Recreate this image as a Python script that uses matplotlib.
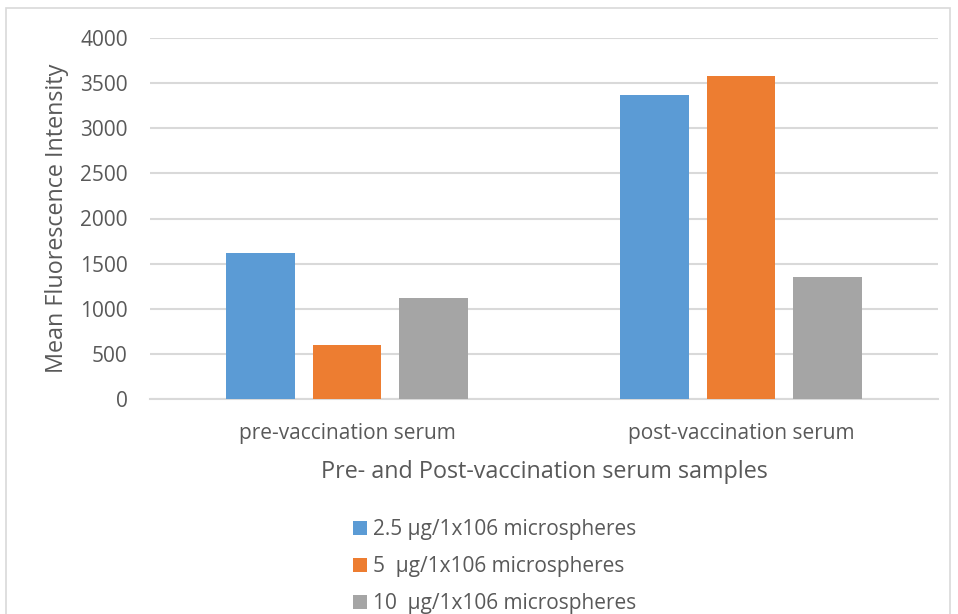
import numpy as np
import matplotlib.pyplot as plt
from matplotlib.patches import Rectangle

# Data
categories = ["pre-vaccination serum", "post-vaccination serum"]
series_names = ["2.5 μg/1x106 microspheres",
                "5  μg/1x106 microspheres",
                "10  μg/1x106 microspheres"]
conc_2_5 = [1614, 3368]
conc_5 = [595, 3579]
conc_10 = [1119, 1352]
yticks = [0, 500, 1000, 1500, 2000, 2500, 3000, 3500, 4000]

colors = ["#5b9bd5", "#ed7d31", "#a5a5a5"]
text_color = "#595959"
grid_color = "#d9d9d9"

plt.rcParams['font.family'] = ['Open Sans', 'DejaVu Sans']

fig = plt.figure(figsize=(9.58, 6.14), dpi=100)
ax = fig.add_axes([150 / 958, 1 - 399 / 614, (938 - 150) / 958, (399 - 38) / 614])

x = np.arange(len(categories))
width = 0.175
step = 0.22
for i, (vals, c, name) in enumerate(zip([conc_2_5, conc_5, conc_10], colors, series_names)):
    ax.bar(x + (i - 1) * step, vals, width, color=c, label=name, zorder=3)

ax.set_xlim(-0.5, 1.5)
ax.set_ylim(0, 4000)
ax.set_yticks(yticks)
ax.set_xticks(x)
ax.set_xticklabels(categories)
ax.tick_params(axis='both', length=0, colors=text_color, labelsize=15)
ax.tick_params(axis='x', pad=17)
ax.tick_params(axis='y', pad=16)
ax.yaxis.grid(True, color=grid_color, linewidth=1.5, zorder=0)
for s in ["top", "right", "left"]:
    ax.spines[s].set_visible(False)
ax.spines["bottom"].set_color(grid_color)
ax.spines["bottom"].set_linewidth(1.5)

ax.set_ylabel("Mean Fluorescence Intensity", fontsize=16.8, color=text_color, labelpad=8)
ax.set_xlabel("Pre- and Post-vaccination serum samples", fontsize=16.8, color=text_color, labelpad=12)

leg = fig.legend(loc="upper left", bbox_to_anchor=(343 / 958, 1 - 509 / 614),
                 frameon=False, fontsize=15, handlelength=0.65, handleheight=0.65,
                 handletextpad=0.3, labelspacing=0.76, borderpad=0)
for t in leg.get_texts():
    t.set_color(text_color)

# light frame around the chart area
fig.patches.append(Rectangle((6 / 958, -0.01), 944 / 958, 1 - 8 / 614 + 0.01,
                             transform=fig.transFigure, fill=False,
                             edgecolor=grid_color, linewidth=1.2))

fig.savefig("out.png", dpi=100)
